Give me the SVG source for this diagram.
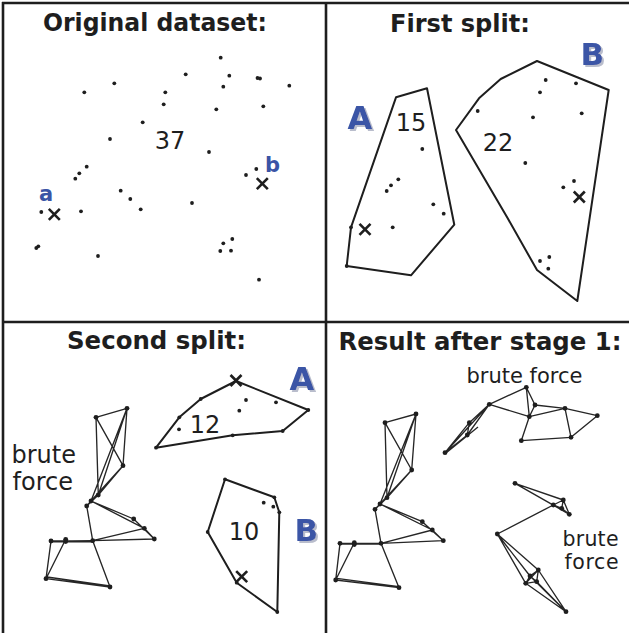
<svg xmlns="http://www.w3.org/2000/svg" xmlns:xlink="http://www.w3.org/1999/xlink" width="629" height="633" viewBox="0 0 629 633">
<defs>
<style>
.frame{stroke:#1e1e1e;stroke-width:2.6;fill:none}
.title{font-family:"DejaVu Sans",Verdana,sans-serif;font-weight:bold;font-size:24px;fill:#1e1e1e}
.num{font-family:"DejaVu Sans",Verdana,sans-serif;font-size:24px;fill:#1e1e1e;text-anchor:middle}
.bf{font-family:"DejaVu Sans",Verdana,sans-serif;fill:#1e1e1e}
.lbl{font-family:"DejaVu Sans",Verdana,sans-serif;font-weight:bold;fill:#3a54a6}
.big{filter:url(#sh)}
.hull{fill:none;stroke:#1e1e1e;stroke-width:2;stroke-linejoin:round}
.d{fill:#1e1e1e}
.e{stroke:#262626;stroke-width:1.35;fill:none}
.x{stroke:#1e1e1e;stroke-width:2.6;stroke-linecap:butt}
</style>
<filter id="sh" x="-20%" y="-20%" width="150%" height="150%">
<feOffset in="SourceAlpha" dx="2" dy="2" result="o"/>
<feFlood flood-color="#b9bdcc"/>
<feComposite in2="o" operator="in" result="s"/>
<feMerge><feMergeNode in="s"/><feMergeNode in="SourceGraphic"/></feMerge>
</filter>
<circle id="dot" r="1.9" class="d"/>
<circle id="nd" r="2.4" class="d"/>
<g id="xm"><line class="x" x1="-5.5" y1="-5.5" x2="5.5" y2="5.5"/><line class="x" x1="-5.5" y1="5.5" x2="5.5" y2="-5.5"/></g>
</defs>
<rect width="629" height="633" fill="#ffffff"/>

<g id="frame">
<line class="frame" x1="2" y1="3" x2="629" y2="3"/>
<line class="frame" x1="3" y1="2" x2="3" y2="633"/>
<line class="frame" x1="326" y1="2" x2="326" y2="633"/>
<line class="frame" x1="2" y1="322" x2="629" y2="322"/>
</g>

<!-- Panel 1 -->
<g id="panel1">
<text class="title" x="43" y="31" textLength="224" lengthAdjust="spacingAndGlyphs">Original dataset:</text>
<text class="num" x="170" y="149">37</text>
<g id="p1dots">
<use href="#dot" x="220.7" y="57.7"/><use href="#dot" x="185.7" y="74.3"/><use href="#dot" x="229.3" y="75.7"/>
<use href="#dot" x="257.5" y="78"/><use href="#dot" x="260" y="78.5"/><use href="#dot" x="114.3" y="83.3"/>
<use href="#dot" x="84.3" y="92.3"/><use href="#dot" x="165.3" y="92.3"/><use href="#dot" x="223.3" y="86.7"/>
<use href="#dot" x="289.3" y="85.7"/><use href="#dot" x="163.7" y="104.3"/><use href="#dot" x="216.3" y="109.3"/>
<use href="#dot" x="263.3" y="106.3"/><use href="#dot" x="142.7" y="122.3"/><use href="#dot" x="110" y="139"/>
<use href="#dot" x="209" y="152"/><use href="#dot" x="256.3" y="169"/><use href="#dot" x="246" y="175"/>
<use href="#dot" x="86.7" y="166.7"/><use href="#dot" x="79.3" y="173.3"/><use href="#dot" x="75.3" y="178.7"/>
<use href="#dot" x="120.7" y="190.7"/><use href="#dot" x="130.3" y="199"/><use href="#dot" x="140.7" y="209.3"/>
<use href="#dot" x="192" y="203"/><use href="#dot" x="41.3" y="212"/><use href="#dot" x="81" y="211.3"/>
<use href="#dot" x="36.3" y="248"/><use href="#dot" x="38.3" y="246.3"/><use href="#dot" x="98" y="256"/>
<use href="#dot" x="232.3" y="239"/><use href="#dot" x="223.3" y="243.3"/><use href="#dot" x="220.3" y="251"/>
<use href="#dot" x="231" y="250.7"/><use href="#dot" x="259" y="279.7"/>
</g>
<use href="#xm" x="54.3" y="214.3"/>
<use href="#xm" x="262.3" y="183.7"/>
<text class="lbl" x="39" y="201" font-size="21">a</text>
<text class="lbl" x="265" y="172" font-size="21">b</text>
</g>

<!-- Panel 2 -->
<g id="panel2">
<text class="title" x="390" y="32" textLength="140" lengthAdjust="spacingAndGlyphs">First split:</text>
<g id="p2A">
<polygon class="hull" points="396,97.3 427,88.3 454.3,224.7 411,275.3 346.7,266 351,227.3"/>
<use href="#dot" x="346.7" y="266"/><use href="#dot" x="351" y="227.3"/>
<use href="#dot" x="422.3" y="149"/><use href="#dot" x="398.3" y="179.3"/><use href="#dot" x="391" y="185.3"/>
<use href="#dot" x="386.7" y="191"/><use href="#dot" x="433.3" y="204.3"/><use href="#dot" x="443.7" y="213.7"/>
<use href="#dot" x="392.7" y="227.3"/>
<use href="#xm" x="365" y="229.3"/>
<text class="num" x="411" y="130.5">15</text>
<text class="lbl big" x="347.5" y="129" font-size="32">A</text>
</g>
<g id="p2B">
<polygon class="hull" points="456,130 479,98.3 500.7,79 537,61 608.7,90 577.3,301 537,270 507.7,218.3"/>
<use href="#dot" x="545.7" y="80"/><use href="#dot" x="576" y="83.3"/><use href="#dot" x="540" y="92.3"/>
<use href="#dot" x="477.7" y="111"/><use href="#dot" x="533" y="117.3"/><use href="#dot" x="581.7" y="113.3"/>
<use href="#dot" x="525.3" y="163"/><use href="#dot" x="574" y="181"/><use href="#dot" x="563.3" y="187.3"/>
<use href="#dot" x="549.3" y="257"/><use href="#dot" x="540" y="261"/><use href="#dot" x="548.3" y="268.7"/>
<use href="#xm" x="579.3" y="197"/>
<text class="num" x="498" y="150.5">22</text>
<text class="lbl big" x="580.5" y="65" font-size="31">B</text>
</g>
</g>

<!-- Panel 3 -->
<g id="panel3">
<text class="title" x="67" y="348.5" textLength="179" lengthAdjust="spacingAndGlyphs">Second split:</text>
<g id="p3A">
<polygon class="hull" points="156,447.7 179.3,417.3 200.7,399 236,381 308.3,410 282.7,431 232.7,435.3"/>
<use href="#dot" x="156" y="447.7"/><use href="#dot" x="179.3" y="417.3"/><use href="#dot" x="200.7" y="399"/>
<use href="#dot" x="308.3" y="410"/><use href="#dot" x="282.7" y="431"/><use href="#dot" x="232.7" y="435.3"/>
<use href="#dot" x="246" y="400"/><use href="#dot" x="276" y="402.3"/><use href="#dot" x="239.3" y="410.7"/>
<use href="#dot" x="179" y="429.3"/>
<use href="#xm" x="236" y="380.5"/>
<text class="num" x="205" y="432.5">12</text>
<text class="lbl big" x="289.5" y="390" font-size="32">A</text>
</g>
<g id="p3B">
<polygon class="hull" points="225,479.3 274.3,497.3 279.3,512.3 277.3,612 236.7,582.7 207.7,532"/>
<use href="#dot" x="225" y="479.3"/><use href="#dot" x="274.3" y="497.3"/><use href="#dot" x="279.3" y="512.3"/>
<use href="#dot" x="277.3" y="612"/><use href="#dot" x="236.7" y="582.7"/><use href="#dot" x="207.7" y="532"/>
<use href="#dot" x="263.7" y="502.7"/><use href="#dot" x="273.3" y="506.7"/>
<use href="#xm" x="241.7" y="576.7"/>
<text class="num" x="244" y="540">10</text>
<text class="lbl big" x="294.5" y="540.5" font-size="31">B</text>
</g>
<text class="bf" font-size="24"><tspan x="11.5" y="463.3">brute</tspan><tspan x="12.5" y="490">force</tspan></text>
<g id="p3G">
<g id="p3Gedges">
<path class="e" d="M96,417.3L127,408.3M96,417.3L98.3,495M96,417.3L123,465.7M127,408.3L123,465.7M127,408.3L98.3,495M127,408.3L91,501M123,465.7L98.3,495M123,465.7L91,501M98.3,495L91,501L86.7,506M98.3,495L86.7,506M91,501L133.7,519M91,501L144.3,528.3M133.7,519L154.3,539M144.3,528.3L154.3,539M86.7,506L92.7,540.7M92.7,540.7L144.3,528.3M92.7,540.7L154.3,539M51,541L92.7,540.7M51,541.8L92.7,541.5M51,541L46,578.7M65.7,539.3L46,578.7M46,578.7L110,587M47,577L110,586M92.7,540.7L110,587"/>
</g>
<use href="#nd" x="96" y="417.3"/><use href="#nd" x="127" y="408.3"/><use href="#nd" x="123" y="465.7"/>
<use href="#nd" x="98.3" y="495"/><use href="#nd" x="91" y="501"/><use href="#nd" x="86.7" y="506"/>
<use href="#nd" x="133.7" y="519"/><use href="#nd" x="144.3" y="528.3"/><use href="#nd" x="154.3" y="539"/>
<use href="#nd" x="92.7" y="540.7"/><use href="#nd" x="65.7" y="539.3"/><use href="#nd" x="65.7" y="541.5"/><use href="#nd" x="51" y="541"/>
<use href="#nd" x="46" y="578.7"/><use href="#nd" x="110" y="587"/>
</g>
</g>

<!-- Panel 4 -->
<g id="panel4">
<text class="title" x="338.5" y="350" textLength="283" lengthAdjust="spacingAndGlyphs">Result after stage 1:</text>
<text class="bf" font-size="21" x="466.5" y="383.3">brute force</text>
<text class="bf" font-size="20.5" x="562.5" y="546.2" textLength="56">brute</text>
<text class="bf" font-size="20.5" x="564.5" y="568.9" textLength="54">force</text>
<g id="p4L">
<g id="p4Ledges">
<path class="e" d="M385,422.7L416,414M385,422.7L387,497.7M385,422.7L411.7,470M416,414L411.7,470M416,414L387,497.7M416,414L380,504M411.7,470L387,497.7M411.7,470L380,504M387,497.7L380,504L375,509.3M387,497.7L375,509.3M380,504L422.3,521.7M380,504L432.3,530M422.3,521.7L443.3,540.7M432.3,530L443.3,540.7M375,509.3L381,543.3M381,543.3L432.3,530M381,543.3L443.3,540.7M340,543.3L381,543.3M340,544L381,544M340,543.3L335.7,580M354.3,542.7L335.7,580M335.7,580L399,587.7M336.7,578.3L399,586.7M381,543.3L399,587.7"/>
</g>
<use href="#nd" x="385" y="422.7"/><use href="#nd" x="416" y="414"/><use href="#nd" x="411.7" y="470"/>
<use href="#nd" x="387" y="497.7"/><use href="#nd" x="380" y="504"/><use href="#nd" x="375" y="509.3"/>
<use href="#nd" x="422.3" y="521.7"/><use href="#nd" x="432.3" y="530"/><use href="#nd" x="443.3" y="540.7"/>
<use href="#nd" x="381" y="543.3"/><use href="#nd" x="354.3" y="542.7"/><use href="#nd" x="354.3" y="544.5"/><use href="#nd" x="340" y="543.3"/>
<use href="#nd" x="335.7" y="580"/><use href="#nd" x="399" y="587.7"/>
</g>
<g id="p4T">
<g id="p4Tedges">
<path class="e" d="M445,452.7L467.3,435M445,452.7L469.3,422.7M445,452.7L489.3,404.3M446,453L478,427M467.3,435L469.3,422.7M467.3,435L489.3,404.3M469.3,422.7L489.3,404.3M489.3,404.3L526.3,387.3M489.3,404.3L529.3,416.7M526.3,387.3L535,405M526.3,387.3L529.3,416.7M535,405L529.3,416.7M535,405L565,408.3M529.3,416.7L565,408.3M565,408.3L597.3,415.7M565,408.3L571,437.3M597.3,415.7L571,437.3M529.3,416.7L521.3,440.7M521.3,440.7L571,437.3"/>
</g>
<use href="#nd" x="445" y="452.7"/><use href="#nd" x="467.3" y="435"/><use href="#nd" x="469.3" y="422.7"/>
<use href="#nd" x="489.3" y="404.3"/><use href="#nd" x="526.3" y="387.3"/><use href="#nd" x="535" y="405"/>
<use href="#nd" x="529.3" y="416.7"/><use href="#nd" x="565" y="408.3"/><use href="#nd" x="597.3" y="415.7"/>
<use href="#nd" x="571" y="437.3"/><use href="#nd" x="521.3" y="440.7"/>
</g>
<g id="p4R">
<g id="p4Redges">
<path class="e" d="M515,483.3L553.3,505M515,483.3L563.3,500M515,483.3L569.3,514.3M553.3,505L563.3,500M553.3,505L561.7,508.3M563.3,500L569.3,514.3M561.7,508.3L569.3,514.3M553.3,505L569.3,514.3M563.3,500L561.7,508.3M553.3,505L497.3,534M497.3,534L538.3,570M497.3,534L525.7,583.3M497.3,534L530,576M538.3,570L530,576M538.3,570L536.7,581.7M530,576L536.7,581.7M530,576L525.7,583.3M536.7,581.7L525.7,583.3M538.3,570L525.7,583.3M538.3,570L566,611.7M536.7,581.7L566,611.7M525.7,583.3L566,611.7M530,576L566,611.7"/>
</g>
<use href="#nd" x="515" y="483.3"/><use href="#nd" x="553.3" y="505"/><use href="#nd" x="563.3" y="500"/>
<use href="#nd" x="561.7" y="508.3"/><use href="#nd" x="569.3" y="514.3"/><use href="#nd" x="497.3" y="534"/>
<use href="#nd" x="538.3" y="570"/><use href="#nd" x="530" y="576"/><use href="#nd" x="536.7" y="581.7"/>
<use href="#nd" x="525.7" y="583.3"/><use href="#nd" x="566" y="611.7"/>
</g>
</g>
</svg>
